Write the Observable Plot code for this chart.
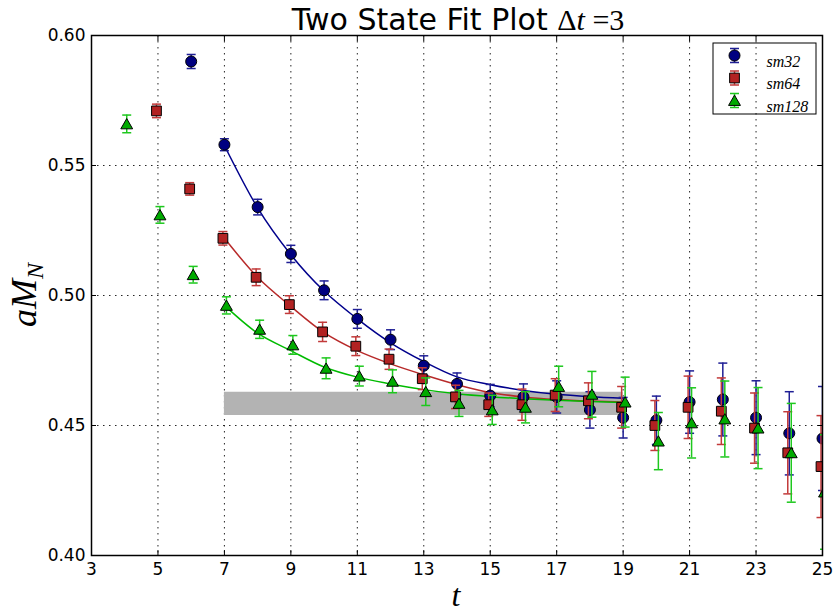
<!DOCTYPE html>
<html><head><meta charset="utf-8">
<script src="https://cdn.jsdelivr.net/npm/d3@7"></script>
<script src="https://cdn.jsdelivr.net/npm/@observablehq/plot@0.6"></script>
<style>body{margin:0;background:#fff}</style>
</head><body><div id="chart"></div>
<script>
// ---- data ----
const seriesNames = ["sm32", "sm64", "sm128"];
const xTicks = [3, 5, 7, 9, 11, 13, 15, 17, 19, 21, 23, 25];
const yTicks = [0.40, 0.45, 0.50, 0.55, 0.60];

const tSm32 = [6, 7, 8, 9, 10, 11, 12, 13, 14, 15, 16, 17, 18, 19, 20, 21, 22, 23, 24, 25];
const mSm32 = [0.590, 0.558, 0.534, 0.516, 0.502, 0.491, 0.483, 0.473, 0.466, 0.4615, 0.461, 0.461, 0.456, 0.453, 0.452, 0.459, 0.460, 0.453, 0.447, 0.445];
const eSm32 = [0.0027, 0.0023, 0.0030, 0.0033, 0.0036, 0.0036, 0.0038, 0.0038, 0.0042, 0.0043, 0.0050, 0.0062, 0.0070, 0.0078, 0.0093, 0.0120, 0.0140, 0.0142, 0.0160, 0.0200];

const tSm64 = [5, 6, 7, 8, 9, 10, 11, 12, 13, 14, 15, 16, 17, 18, 19, 20, 21, 22, 23, 24, 25];
const mSm64 = [0.571, 0.541, 0.522, 0.507, 0.4965, 0.486, 0.4805, 0.4755, 0.468, 0.461, 0.458, 0.458, 0.4617, 0.4595, 0.457, 0.450, 0.457, 0.4555, 0.449, 0.4395, 0.4342];
const eSm64 = [0.0026, 0.0024, 0.0026, 0.0032, 0.0034, 0.0037, 0.0036, 0.0039, 0.0042, 0.0045, 0.0045, 0.0060, 0.0063, 0.0069, 0.0080, 0.0096, 0.0120, 0.0128, 0.0135, 0.0158, 0.0196];

const tSm128 = [4, 5, 6, 7, 8, 9, 10, 11, 12, 13, 14, 15, 16, 17, 18, 19, 20, 21, 22, 23, 24, 25];
const mSm128 = [0.566, 0.531, 0.508, 0.4962, 0.487, 0.481, 0.472, 0.469, 0.467, 0.463, 0.4585, 0.456, 0.457, 0.465, 0.462, 0.459, 0.444, 0.451, 0.4525, 0.449, 0.4395, 0.4244];
const eSm128 = [0.0034, 0.0032, 0.0032, 0.0033, 0.0035, 0.0036, 0.0040, 0.0038, 0.0044, 0.0053, 0.0050, 0.0056, 0.0060, 0.0078, 0.0088, 0.0096, 0.0110, 0.0135, 0.0146, 0.0156, 0.0190, 0.0220];

const fitT = [7, 8, 9, 10, 11, 12, 13, 14, 15, 16, 17, 18, 19];
const fitSm32 = [0.5577, 0.5337, 0.5157, 0.5017, 0.4910, 0.4818, 0.4746, 0.4687, 0.4657, 0.4635, 0.4620, 0.4611, 0.4605];
const fitSm64 = [0.5220, 0.5070, 0.4958, 0.4857, 0.4788, 0.4737, 0.4695, 0.4657, 0.4627, 0.4610, 0.4600, 0.4594, 0.4590];
const fitSm128 = [0.4962, 0.4855, 0.4788, 0.4725, 0.4686, 0.4660, 0.4638, 0.4622, 0.4611, 0.4603, 0.4597, 0.4592, 0.4588];

const bandT = [7, 19];
const bandLow = [0.4538, 0.4538];
const bandHigh = [0.4628, 0.4628];

// ---- build tables ----
const pts = {
  sm32: tSm32.map((t, i) => ({series: "sm32", t, m: mSm32[i], e: eSm32[i]})),
  sm64: tSm64.map((t, i) => ({series: "sm64", t, m: mSm64[i], e: eSm64[i]})),
  sm128: tSm128.map((t, i) => ({series: "sm128", t, m: mSm128[i], e: eSm128[i]}))
};
const fits = {
  sm32: fitT.map((t, i) => ({t, y: fitSm32[i]})),
  sm64: fitT.map((t, i) => ({t, y: fitSm64[i]})),
  sm128: fitT.map((t, i) => ({t, y: fitSm128[i]}))
};
const band = bandT.map((t, i) => ({t, lo: bandLow[i], hi: bandHigh[i]}));

const sty = {
  sm32: {fill: "#000080", ecolor: "#1f1f95", line: "#00008c", symbol: "circle", r: 5.5, dx: 0, dy: 0},
  sm64: {fill: "#b22222", ecolor: "#c23a3a", line: "#b82a2a", symbol: "square", r: 5.5, dx: -1.5, dy: 0},
  sm128: {fill: "#00aa00", ecolor: "#1ec81e", line: "#00bb00", symbol: "triangle", r: 4.4, dx: 2, dy: 1.5}
};

const capSym = {draw(ctx, size) { const r = Math.sqrt(size / Math.PI); ctx.moveTo(-r, 0); ctx.lineTo(r, 0); }};
const legErr = {draw(ctx) { ctx.moveTo(0, -7); ctx.lineTo(0, 7); ctx.moveTo(-4.5, -7); ctx.lineTo(4.5, -7); ctx.moveTo(-4.5, 7); ctx.lineTo(4.5, 7); }};

const marks = [
  Plot.gridX(xTicks, {stroke: "#000", strokeOpacity: 0.85, strokeDasharray: "1.5,4.5", strokeWidth: 1}),
  Plot.gridY(yTicks, {stroke: "#000", strokeOpacity: 0.85, strokeDasharray: "1.5,4.5", strokeWidth: 1}),
  Plot.areaY(band, {x: "t", y1: "lo", y2: "hi", fill: "#b3b3b3"})
];
for (const s of seriesNames) {
  marks.push(Plot.line(fits[s], {x: "t", y: "y", stroke: sty[s].line, strokeWidth: 1.5, curve: "monotone-x"}));
}
for (const s of seriesNames) {
  const st = sty[s];
  marks.push(
    Plot.ruleX(pts[s], {x: "t", y1: d => d.m - d.e, y2: d => d.m + d.e, stroke: st.ecolor, strokeWidth: 1.5, dx: st.dx, clip: true}),
    Plot.dot(pts[s], {x: "t", y: d => d.m - d.e, symbol: capSym, r: 4.5, fill: "none", stroke: st.ecolor, strokeWidth: 1.5, dx: st.dx, clip: true}),
    Plot.dot(pts[s], {x: "t", y: d => d.m + d.e, symbol: capSym, r: 4.5, fill: "none", stroke: st.ecolor, strokeWidth: 1.5, dx: st.dx, clip: true}),
    Plot.dot(pts[s], {x: "t", y: "m", symbol: st.symbol, r: st.r, fill: st.fill, stroke: "#000", strokeWidth: 1, dx: st.dx, dy: st.dy, clip: true})
  );
}
// legend entries
seriesNames.forEach((s, i) => {
  const st = sty[s];
  const dy = 20 + i * 22.5;
  marks.push(
    Plot.dot([s], {frameAnchor: "top-right", dx: -88, dy, symbol: legErr, r: 5, fill: "none", stroke: st.ecolor, strokeWidth: 1.5}),
    Plot.dot([s], {frameAnchor: "top-right", dx: -88, dy: dy + st.dy, symbol: st.symbol, r: st.r, fill: st.fill, stroke: "#000", strokeWidth: 1}),
    Plot.text([s], {frameAnchor: "top-right", dx: -56, dy, text: d => d, textAnchor: "start", fontFamily: "Liberation Serif", fontStyle: "italic", fontSize: 16, fill: "#000"})
  );
});
marks.push(
  Plot.frame({stroke: "#000", strokeWidth: 1.5}),
  Plot.axisX({ticks: xTicks, tickSize: -5, tickPadding: 12, label: null, fontSize: 17}),
  Plot.axisX({anchor: "top", ticks: xTicks, tickSize: -5, tickFormat: () => "", label: null}),
  Plot.axisY({ticks: yTicks, tickSize: -5, tickPadding: 11, tickFormat: d3.format(".2f"), label: null, fontSize: 17}),
  Plot.axisY({anchor: "right", ticks: yTicks, tickSize: -5, tickFormat: () => "", label: null})
);

const plot = Plot.plot({
  width: 837, height: 612,
  marginLeft: 91, marginRight: 15, marginTop: 35, marginBottom: 57,
  x: {domain: [3, 25]},
  y: {domain: [0.40, 0.60]},
  style: {fontFamily: "DejaVu Sans", fontSize: "17px", color: "#000", background: "#fff"},
  marks
});
document.getElementById("chart").appendChild(plot);

const svg = d3.select(plot);
// legend box
svg.append("rect").attr("x", 713).attr("y", 43).attr("width", 103).attr("height", 71)
  .attr("fill", "none").attr("stroke", "#000").attr("stroke-width", 1);
// title
const title = svg.append("text").attr("x", 458).attr("y", 30).attr("text-anchor", "middle")
  .attr("font-family", "DejaVu Sans").attr("font-size", 30).attr("fill", "#000");
title.append("tspan").text("Two State Fit Plot ");
title.append("tspan").attr("font-family", "Liberation Serif").text("Δ");
title.append("tspan").attr("font-family", "Liberation Serif").attr("font-style", "italic").text("t");
title.append("tspan").attr("font-family", "Liberation Serif").text(" =3");
// x label
svg.append("text").attr("x", 456).attr("y", 606).attr("text-anchor", "middle")
  .attr("font-family", "Liberation Serif").attr("font-style", "italic").attr("font-size", 32).attr("fill", "#000").text("t");
// y label
const yl = svg.append("text").attr("transform", "translate(36,295) rotate(-90)").attr("text-anchor", "middle")
  .attr("font-family", "Liberation Serif").attr("font-style", "italic").attr("font-size", 36).attr("fill", "#000");
yl.append("tspan").text("aM");
yl.append("tspan").attr("font-size", 24).attr("dy", 7).text("N");
</script>
</body></html>
